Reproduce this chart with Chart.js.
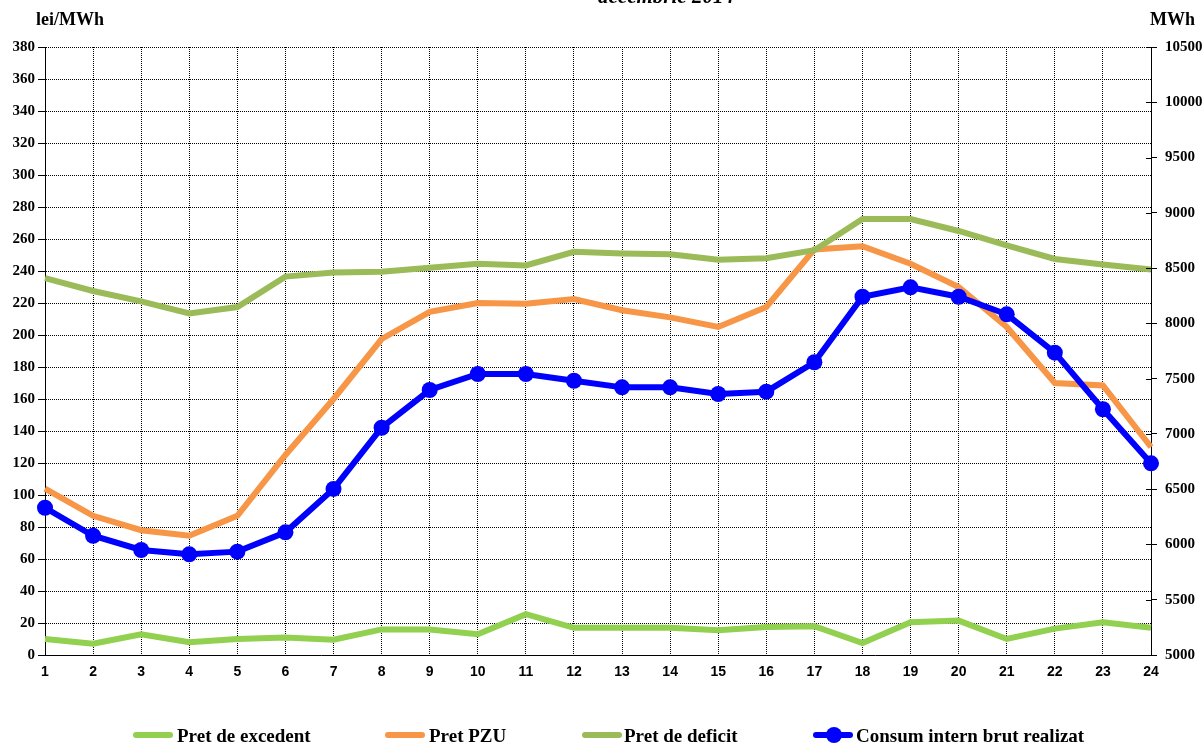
<!DOCTYPE html>
<html>
<head>
<meta charset="utf-8">
<script src="https://cdn.jsdelivr.net/npm/chart.js@4.4.1/dist/chart.umd.min.js"></script>
<style>
  html, body { margin: 0; padding: 0; background: #fff; }
  #wrap { position: relative; width: 1204px; height: 747px; overflow: hidden; }
  #chart { position: absolute; left: 0; top: 0; }
  .txt { position: absolute; font-family: "Liberation Serif", "Times New Roman", serif; font-weight: bold; color: #000; line-height: 1; white-space: nowrap; }
  #title { top: -14px; left: 0; width: 1332px; text-align: center; font-size: 21px; font-style: italic; }
  #unitLeft { top: 10px; left: 36px; font-size: 18px; }
  #unitRight { top: 10px; left: 1150px; font-size: 18px; }
  .leg { position: absolute; top: 726px; height: 20px; }
  .leg .sample { position: absolute; top: 6px; width: 40px; height: 6px; border-radius: 3px; }
  .leg .dot { position: absolute; top: 1px; left: 13px; width: 16px; height: 16px; border-radius: 8px; background: #0000ff; }
  .leg .label { position: absolute; top: 0; font-size: 19px; }
</style>
</head>
<body>
<div id="wrap">
  <canvas id="chart" width="1204" height="747"></canvas>
  <div id="title" class="txt">decembrie 2014</div>
  <div id="unitLeft" class="txt">lei/MWh</div>
  <div id="unitRight" class="txt">MWh</div>
  <div id="legend"></div>
</div>
<script>
  const hours = ["1", "2", "3", "4", "5", "6", "7", "8", "9", "10", "11", "12",
    "13", "14", "15", "16", "17", "18", "19", "20", "21", "22", "23", "24"];

  const pretExcedent = [10, 7, 13, 8, 10, 11, 9.5, 16, 16, 13, 25.5, 17,
    17, 17, 15.5, 17.5, 18, 7.5, 20.5, 21.5, 10, 16.5, 20.5, 17];

  const pretPZU = [104, 87, 78, 74.5, 87, 125, 160, 197.5, 214.5, 220, 219.5, 222.5,
    215.5, 211, 205, 217.5, 253.5, 255.5, 244.5, 230, 205, 170, 168.5, 130];

  const pretDeficit = [235.5, 227.5, 221, 213.5, 217.5, 236.5, 239, 239.5, 242, 244.5, 243.5, 252,
    251, 250.5, 247, 248, 253, 272.5, 272.5, 265, 256, 247.5, 244, 241];

  const consumBrut = [6332, 6079, 5950, 5911, 5935, 6110, 6502, 7056, 7397, 7542, 7542, 7481,
    7421, 7421, 7361, 7382, 7648, 8241, 8326, 8241, 8082, 7735, 7223, 6734];

  const seriesNames = ["Pret de excedent", "Pret PZU", "Pret de deficit", "Consum intern brut realizat"];
  const seriesColors = ["#92d050", "#f79646", "#9bbb59", "#0000ff"];

  const tickFont = { family: "'Liberation Serif', 'Times New Roman', serif", size: 15, weight: "bold" };
  const xFont = { family: "'Liberation Sans', Arial, sans-serif", size: 14, weight: "bold" };

  function priceLine(label, data, color, order) {
    return {
      label,
      data,
      yAxisID: "y",
      borderColor: color,
      backgroundColor: color,
      borderWidth: 6,
      pointRadius: 0,
      tension: 0,
      order
    };
  }

  const datasets = [
    priceLine(seriesNames[0], pretExcedent, seriesColors[0], 3),
    priceLine(seriesNames[1], pretPZU, seriesColors[1], 2),
    priceLine(seriesNames[2], pretDeficit, seriesColors[2], 1),
    {
      label: seriesNames[3],
      data: consumBrut,
      yAxisID: "y1",
      borderColor: seriesColors[3],
      backgroundColor: seriesColors[3],
      borderWidth: 6,
      pointRadius: 8,
      pointBorderWidth: 0,
      pointBackgroundColor: seriesColors[3],
      tension: 0,
      order: 0
    }
  ];

  // the right axis ticks in the original cross the axis line, draw the inner half here
  const innerTicks = {
    id: "innerTicks",
    afterDraw(chart) {
      const scale = chart.scales.y1;
      const ctx = chart.ctx;
      ctx.save();
      ctx.strokeStyle = "#000";
      ctx.lineWidth = 1;
      scale.ticks.forEach((tick) => {
        const y = Math.round(scale.getPixelForValue(tick.value)) + 0.5;
        ctx.beginPath();
        ctx.moveTo(scale.left - 5, y);
        ctx.lineTo(scale.left, y);
        ctx.stroke();
      });
      ctx.restore();
    }
  };

  new Chart(document.getElementById("chart"), {
    type: "line",
    data: { labels: hours, datasets },
    plugins: [innerTicks],
    options: {
      responsive: false,
      devicePixelRatio: 1,
      animation: false,
      layout: { padding: { top: 47, bottom: 62, left: 0, right: 0 } },
      plugins: {
        legend: { display: false },
        tooltip: { enabled: false }
      },
      scales: {
        x: {
          offset: false,
          grid: { color: "#000", lineWidth: 1, drawTicks: false },
          border: { display: true, color: "#000", width: 1, dash: [1, 1] },
          ticks: { color: "#000", font: xFont, padding: 9, maxRotation: 0, autoSkip: false },
          afterFit(scale) { scale.height = 30; }
        },
        y: {
          position: "left",
          min: 0,
          max: 380,
          grid: { color: "#000", lineWidth: 1, drawTicks: true, tickLength: 7, tickColor: "#000", tickBorderDash: [] },
          border: { display: true, color: "#000", width: 1, dash: [1, 1] },
          ticks: { stepSize: 20, color: "#000", font: tickFont, padding: 3 },
          afterFit(scale) { scale.width = 45; }
        },
        y1: {
          position: "right",
          min: 5000,
          max: 10500,
          grid: { drawOnChartArea: false, drawTicks: true, tickLength: 6, tickColor: "#000", tickBorderDash: [] },
          border: { display: true, color: "#000", width: 1 },
          ticks: { stepSize: 500, color: "#000", font: tickFont, padding: 8, callback: (v) => String(v) },
          afterFit(scale) { scale.width = 53; }
        }
      }
    }
  });

  // legend drawn as html so the uneven spacing of the original can be kept
  const legendPos = [
    { sample: 133, text: 177 },
    { sample: 385, text: 429 },
    { sample: 582, text: 624 },
    { sample: 813, text: 856 }
  ];
  const legend = document.getElementById("legend");
  seriesNames.forEach((name, i) => {
    const item = document.createElement("div");
    item.className = "leg";
    item.style.left = legendPos[i].sample + "px";

    const sample = document.createElement("span");
    sample.className = "sample";
    sample.style.background = seriesColors[i];
    item.append(sample);

    if (i === 3) {
      const dot = document.createElement("span");
      dot.className = "dot";
      item.append(dot);
    }

    const label = document.createElement("span");
    label.className = "label txt";
    label.style.left = (legendPos[i].text - legendPos[i].sample) + "px";
    label.textContent = name;
    item.append(label);

    legend.append(item);
  });
</script>
</body>
</html>
